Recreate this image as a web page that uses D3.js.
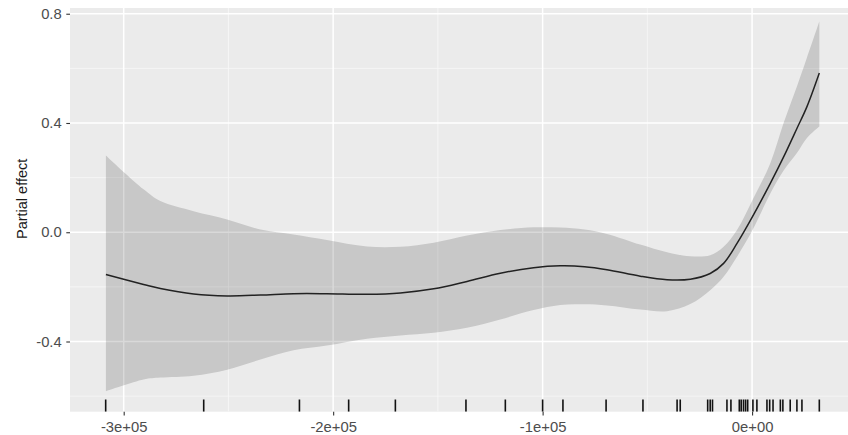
<!DOCTYPE html>
<html>
<head>
<meta charset="utf-8">
<script src="https://cdn.jsdelivr.net/npm/d3@7"></script>
<style>
  html, body { margin: 0; padding: 0; background: #ffffff; }
  svg { display: block; }
  text { font-family: "Liberation Sans", Arial, Helvetica, sans-serif; }
</style>
</head>
<body>
<svg id="chart" width="848" height="435"></svg>
<script>
// Smooth term: covariate values with estimate and confidence interval
const xValues = [-308500, -290500, -282500, -266600, -250600, -234700, -218900, -203000,
  -183800, -167900, -152000, -136100, -120200, -104300, -91600, -80000, -69300, -53400,
  -40600, -29500, -20000, -13600, -7200, 200, 8700, 15000, 21400, 26200, 32100];
const estimate = [-0.155, -0.191, -0.206, -0.226, -0.233, -0.230, -0.225, -0.225,
  -0.227, -0.222, -0.207, -0.180, -0.150, -0.130, -0.123, -0.126, -0.137, -0.161,
  -0.174, -0.172, -0.151, -0.114, -0.041, 0.057, 0.179, 0.275, 0.380, 0.460, 0.583];
const lowerCI = [-0.582, -0.539, -0.532, -0.525, -0.503, -0.466, -0.432, -0.415,
  -0.390, -0.378, -0.368, -0.350, -0.319, -0.285, -0.266, -0.264, -0.268, -0.283,
  -0.289, -0.263, -0.212, -0.163, -0.090, 0.008, 0.142, 0.225, 0.290, 0.345, 0.387];
const upperCI = [0.281, 0.157, 0.114, 0.077, 0.047, 0.010, -0.008, -0.028,
  -0.052, -0.053, -0.038, -0.012, 0.008, 0.018, 0.017, 0.010, -0.006, -0.045,
  -0.073, -0.088, -0.084, -0.053, 0.008, 0.118, 0.253, 0.399, 0.534, 0.640, 0.772];

// Observed covariate values shown as a rug
const rugValues = [-308600, -261800, -216100, -192600, -170300, -136600, -117800, -100000,
  -90300, -69700, -52100, -35800, -34300, -21200, -20000, -18900, -12000, -10100,
  -6100, -5200, -4100, -3100, -2100, 400, 2300, 7100, 8400, 10000, 13500, 14700,
  18200, 21400, 23800, 32100];

// Axis breaks and labels
const xBreaks = [-300000, -200000, -100000, 0];
const xLabels = ["-3e+05", "-2e+05", "-1e+05", "0e+00"];
const xMinor = [-250000, -150000, -50000, 50000];
const yBreaks = [-0.4, 0.0, 0.4, 0.8];
const yLabels = ["-0.4", "0.0", "0.4", "0.8"];
const yMinor = [-0.6, -0.2, 0.2, 0.6];
const yTitle = "Partial effect";

const svg = d3.select("#chart");
const panel = { left: 70, top: 8, right: 855, bottom: 411.7 };

const x = d3.scaleLinear().domain([-325635, 49135]).range([panel.left, panel.right]);
const y = d3.scaleLinear().domain([-0.657, 0.821]).range([panel.bottom, panel.top]);

svg.append("clipPath").attr("id", "panel-clip")
  .append("rect")
  .attr("x", panel.left).attr("y", panel.top)
  .attr("width", panel.right - panel.left).attr("height", panel.bottom - panel.top);

// Panel background
svg.append("rect")
  .attr("x", panel.left).attr("y", panel.top)
  .attr("width", panel.right - panel.left).attr("height", panel.bottom - panel.top)
  .attr("fill", "#EBEBEB");

const grid = svg.append("g").attr("clip-path", "url(#panel-clip)");

// Minor grid
grid.selectAll(".ymin").data(yMinor).join("line")
  .attr("x1", panel.left).attr("x2", panel.right)
  .attr("y1", d => y(d)).attr("y2", d => y(d))
  .attr("stroke", "#F7F7F7").attr("stroke-width", 0.8);
grid.selectAll(".xmin").data(xMinor).join("line")
  .attr("y1", panel.top).attr("y2", panel.bottom)
  .attr("x1", d => x(d)).attr("x2", d => x(d))
  .attr("stroke", "#F7F7F7").attr("stroke-width", 0.8);

// Major grid
grid.selectAll(".ymaj").data(yBreaks).join("line")
  .attr("x1", panel.left).attr("x2", panel.right)
  .attr("y1", d => y(d)).attr("y2", d => y(d))
  .attr("stroke", "#FFFFFF").attr("stroke-width", 1.5);
grid.selectAll(".xmaj").data(xBreaks).join("line")
  .attr("y1", panel.top).attr("y2", panel.bottom)
  .attr("x1", d => x(d)).attr("x2", d => x(d))
  .attr("stroke", "#FFFFFF").attr("stroke-width", 1.5);

const rows = xValues.map((v, i) => ({ x: v, est: estimate[i], lo: lowerCI[i], hi: upperCI[i] }));

const plot = svg.append("g").attr("clip-path", "url(#panel-clip)");

// Confidence band
plot.append("path")
  .datum(rows)
  .attr("d", d3.area()
    .x(d => x(d.x))
    .y0(d => y(d.lo))
    .y1(d => y(d.hi))
    .curve(d3.curveCatmullRom.alpha(0.5)))
  .attr("fill", "#000000")
  .attr("fill-opacity", 0.15);

// Estimated smooth
plot.append("path")
  .datum(rows)
  .attr("d", d3.line()
    .x(d => x(d.x))
    .y(d => y(d.est))
    .curve(d3.curveCatmullRom.alpha(0.5)))
  .attr("fill", "none")
  .attr("stroke", "#222222")
  .attr("stroke-width", 1.5);

// Rug
const rugLen = (panel.bottom - panel.top) * 0.03;
plot.selectAll(".rug").data(rugValues).join("line")
  .attr("x1", d => x(d)).attr("x2", d => x(d))
  .attr("y1", panel.bottom - rugLen).attr("y2", panel.bottom)
  .attr("stroke", "#111111").attr("stroke-width", 1.6);

// Axes
const xAxis = svg.append("g")
  .attr("transform", `translate(0,${panel.bottom})`)
  .call(d3.axisBottom(x).tickValues(xBreaks)
    .tickFormat((d, i) => xLabels[i]).tickSize(3.7).tickPadding(6.3));
const yAxis = svg.append("g")
  .attr("transform", `translate(${panel.left},0)`)
  .call(d3.axisLeft(y).tickValues(yBreaks)
    .tickFormat((d, i) => yLabels[i]).tickSize(3.7).tickPadding(4.6));

[xAxis, yAxis].forEach(g => {
  g.select(".domain").remove();
  g.selectAll(".tick line").attr("stroke", "#333333").attr("stroke-width", 1.1);
  g.selectAll(".tick text")
    .attr("fill", "#4D4D4D")
    .style("font-size", "14.8px")
    .style("font-family", '"Liberation Sans", Arial, Helvetica, sans-serif');
});

// Axis title
svg.append("text")
  .attr("transform", `translate(26.5,${(panel.top + panel.bottom) / 2 - 11}) rotate(-90)`)
  .attr("text-anchor", "middle")
  .attr("fill", "#1A1A1A")
  .style("font-size", "14.5px")
  .text(yTitle);
</script>
</body>
</html>
